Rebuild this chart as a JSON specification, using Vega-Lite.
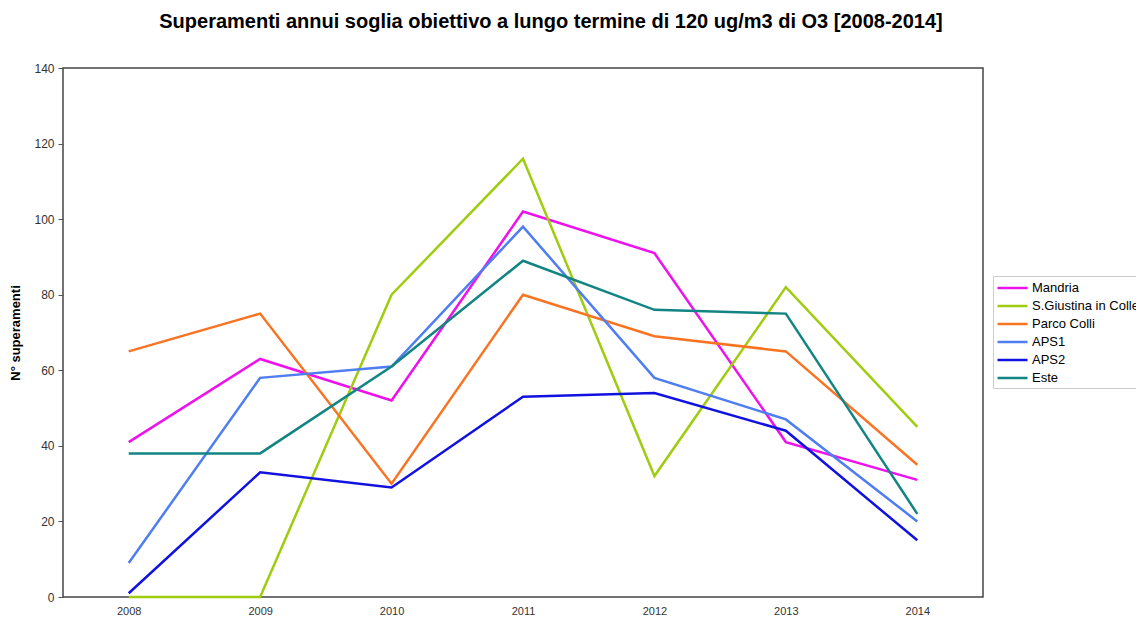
{
  "$schema": "https://vega.github.io/schema/vega-lite/v6.json",
  "autosize": {"type": "none"},
  "width": 920,
  "height": 529,
  "padding": {"left": 63, "top": 68, "right": 153, "bottom": 21},
  "background": "white",
  "title": {
    "text": "Superamenti annui soglia obiettivo a lungo termine di 120 ug/m3 di O3 [2008-2014]",
    "font": "Liberation Sans",
    "fontSize": 20,
    "fontWeight": "bold",
    "color": "#000000",
    "anchor": "middle",
    "offset": 30,
    "dx": 28
  },
  "data": {
    "values": [
      {"anno": "2008", "stazione": "Mandria", "valore": 41},
      {"anno": "2009", "stazione": "Mandria", "valore": 63},
      {"anno": "2010", "stazione": "Mandria", "valore": 52},
      {"anno": "2011", "stazione": "Mandria", "valore": 102},
      {"anno": "2012", "stazione": "Mandria", "valore": 91},
      {"anno": "2013", "stazione": "Mandria", "valore": 41},
      {"anno": "2014", "stazione": "Mandria", "valore": 31},
      {"anno": "2008", "stazione": "S.Giustina in Colle", "valore": 0},
      {"anno": "2009", "stazione": "S.Giustina in Colle", "valore": 0},
      {"anno": "2010", "stazione": "S.Giustina in Colle", "valore": 80},
      {"anno": "2011", "stazione": "S.Giustina in Colle", "valore": 116},
      {"anno": "2012", "stazione": "S.Giustina in Colle", "valore": 32},
      {"anno": "2013", "stazione": "S.Giustina in Colle", "valore": 82},
      {"anno": "2014", "stazione": "S.Giustina in Colle", "valore": 45},
      {"anno": "2008", "stazione": "Parco Colli", "valore": 65},
      {"anno": "2009", "stazione": "Parco Colli", "valore": 75},
      {"anno": "2010", "stazione": "Parco Colli", "valore": 30},
      {"anno": "2011", "stazione": "Parco Colli", "valore": 80},
      {"anno": "2012", "stazione": "Parco Colli", "valore": 69},
      {"anno": "2013", "stazione": "Parco Colli", "valore": 65},
      {"anno": "2014", "stazione": "Parco Colli", "valore": 35},
      {"anno": "2008", "stazione": "APS1", "valore": 9},
      {"anno": "2009", "stazione": "APS1", "valore": 58},
      {"anno": "2010", "stazione": "APS1", "valore": 61},
      {"anno": "2011", "stazione": "APS1", "valore": 98},
      {"anno": "2012", "stazione": "APS1", "valore": 58},
      {"anno": "2013", "stazione": "APS1", "valore": 47},
      {"anno": "2014", "stazione": "APS1", "valore": 20},
      {"anno": "2008", "stazione": "APS2", "valore": 1},
      {"anno": "2009", "stazione": "APS2", "valore": 33},
      {"anno": "2010", "stazione": "APS2", "valore": 29},
      {"anno": "2011", "stazione": "APS2", "valore": 53},
      {"anno": "2012", "stazione": "APS2", "valore": 54},
      {"anno": "2013", "stazione": "APS2", "valore": 44},
      {"anno": "2014", "stazione": "APS2", "valore": 15},
      {"anno": "2008", "stazione": "Este", "valore": 38},
      {"anno": "2009", "stazione": "Este", "valore": 38},
      {"anno": "2010", "stazione": "Este", "valore": 61},
      {"anno": "2011", "stazione": "Este", "valore": 89},
      {"anno": "2012", "stazione": "Este", "valore": 76},
      {"anno": "2013", "stazione": "Este", "valore": 75},
      {"anno": "2014", "stazione": "Este", "valore": 22}
    ]
  },
  "mark": {"type": "line", "strokeWidth": 2.5, "clip": false},
  "encoding": {
    "x": {
      "field": "anno",
      "type": "ordinal",
      "scale": {"type": "point", "padding": 0.5},
      "axis": {
        "title": null,
        "labelAngle": 0,
        "labelFont": "Liberation Sans",
        "labelFontSize": 11,
        "labelColor": "#333333",
        "labelPadding": 8,
        "ticks": false,
        "domain": false,
        "grid": false
      }
    },
    "y": {
      "field": "valore",
      "type": "quantitative",
      "scale": {"domain": [0, 140], "nice": false, "zero": true},
      "axis": {
        "title": "N° superamenti",
        "titleFont": "Liberation Sans",
        "titleFontSize": 13,
        "titleFontWeight": "bold",
        "titleColor": "#000000",
        "titlePadding": 11,
        "values": [0, 20, 40, 60, 80, 100, 120, 140],
        "labelFont": "Liberation Sans",
        "labelFontSize": 12,
        "labelColor": "#333333",
        "labelPadding": 4,
        "tickSize": 5,
        "tickColor": "#555555",
        "domain": false,
        "grid": false
      }
    },
    "color": {
      "field": "stazione",
      "type": "nominal",
      "sort": ["Mandria", "S.Giustina in Colle", "Parco Colli", "APS1", "APS2", "Este"],
      "scale": {
        "domain": ["Mandria", "S.Giustina in Colle", "Parco Colli", "APS1", "APS2", "Este"],
        "range": ["#ee11ee", "#a0cc10", "#f87422", "#4f7df2", "#1212e0", "#138484"]
      },
      "legend": {
        "title": null,
        "orient": "none",
        "legendX": 930,
        "legendY": 208,
        "symbolType": "M-1,0H3",
        "symbolSize": 225,
        "symbolStrokeWidth": 2.5,
        "labelFont": "Liberation Sans",
        "labelFontSize": 13,
        "labelColor": "#000000",
        "labelOffset": 18,
        "rowPadding": 2,
        "padding": 3,
        "strokeColor": "#cccccc",
        "fillColor": "white",
        "labelLimit": 300
      }
    }
  },
  "config": {
    "view": {"stroke": "#444444", "strokeWidth": 1.5},
    "axis": {"tickColor": "#555555"}
  }
}
